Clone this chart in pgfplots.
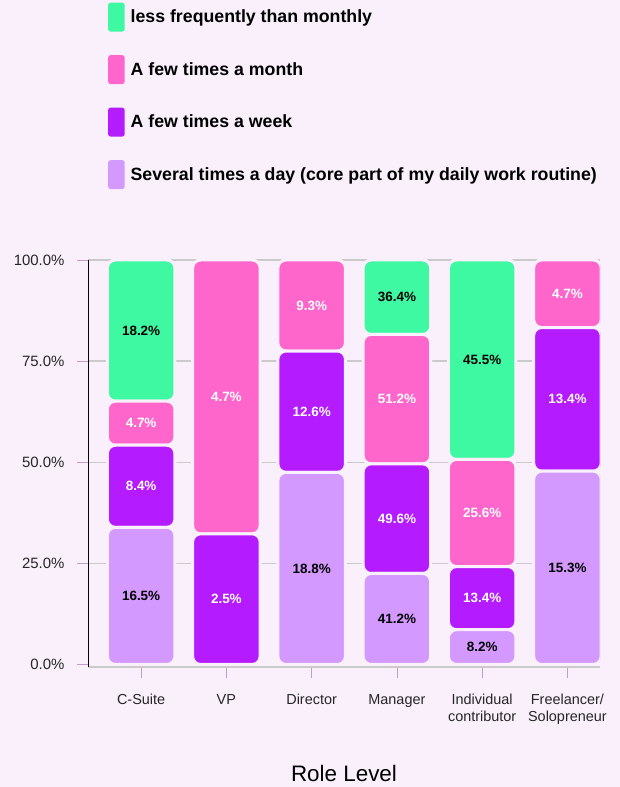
\documentclass[border=0pt]{standalone}
\usepackage{fontspec}
\setmainfont{Liberation Sans}
\usepackage{pgfplots}
\pgfplotsset{compat=1.18}
\usepackage{pgfplotstable}
\definecolor{bg}{HTML}{F9F0FC}
\definecolor{cgreen}{HTML}{3FF8A2}
\definecolor{cpink}{HTML}{FF66CC}
\definecolor{cpurple}{HTML}{B41BFF}
\definecolor{clight}{HTML}{D499FF}
\definecolor{gridc}{HTML}{CACACA}
\definecolor{tickc}{HTML}{C49AD2}

% drawn share of each bar (L,P,K,G) and the value shown as label (..r)
\pgfplotstableread{
x L Lr P Pr K Kr G Gr
0 33.9 16.5 20.3 8.4 10.9 4.7 34.9 18.2
1 0 0 32.3 2.5 67.7 4.7 0 0
2 47.5 18.8 30.0 12.6 22.5 9.3 0 0
3 22.5 41.2 27.1 49.6 32.0 51.2 18.4 36.4
4 8.6 8.2 15.6 13.4 26.5 25.6 49.3 45.5
5 47.8 15.3 35.5 13.4 16.7 4.7 0 0
}\data

\pgfplotsset{seg/.style n args={3}{
  fill=#1, draw=bg, line width=3bp, rounded corners=8bp,
  nodes near coords={\pgfmathfloatifflags{\pgfplotspointmeta}{0}{}{\pgfmathprintnumber[fixed,fixed zerofill,precision=1]{\pgfplotspointmeta}\%}},
  every node near coord/.append style={text=#3, anchor=center, font=\bfseries\fontsize{13.5}{13.5}\selectfont},
}}

\begin{document}
\begin{tikzpicture}
\fill[bg] (0,0) rectangle (620bp,787bp);
\useasboundingbox (0,0) rectangle (620bp,787bp);
\begin{axis}[
  at={(88bp,120.1bp)}, anchor=south west,
  width=512bp, height=406.9bp, scale only axis,
  ybar stacked, bar width=67.5bp,
  xmin=-0.623, xmax=5.382, ymin=-0.6, ymax=100,
  xtick={0,...,5},
  xticklabels={C-Suite, VP, Director, Manager, {Individual\\contributor}, {Freelancer/\\Solopreneur}},
  xticklabel style={align=center, font=\fontsize{14.5}{16.5}\selectfont, text=black!85, yshift=-13bp},
  ytick={25,50,75,100},
  extra y ticks={0}, extra y tick style={grid=none},
  yticklabel={\pgfmathprintnumber[fixed,fixed zerofill,precision=1]{\tick}\%},
  yticklabel style={font=\fontsize{15}{15}\selectfont, text=black!85, xshift=-9bp},
  /pgf/number format/assume math mode=true,
  axis x line*=bottom, axis y line*=left,
  x axis line style={draw=gridc, line width=1.3bp, -},
  y axis line style={draw=black, line width=0.8bp, -},
  tick style={draw=tickc, line width=0.8bp},
  major tick length=11bp, tick align=outside,
  ymajorgrids, grid style={draw=gridc, line width=1.3bp},
  point meta=explicit,
  xlabel={Role Level},
  xlabel style={at={(axis description cs:0.5,-0.263)}, anchor=center, font=\fontsize{22.5}{22.5}\selectfont},
  reverse legend,
  legend image code/.code={\fill[#1, draw=none, rounded corners=2.5bp] (0bp,-14.5bp) rectangle (16.5bp,14.5bp);},
  legend style={at={(axis description cs:0.039,1.633)}, anchor=north west, draw=none, fill=none,
     inner sep=0pt, row sep=23.5bp, column sep=5bp, font=\bfseries\fontsize{17.8}{17.8}\selectfont,
     nodes={inner sep=1bp}},
  legend cell align=left,
]
\addplot[seg={clight}{L}{black}] table[x=x, y=L, meta=Lr] \data;
\addplot[seg={cpurple}{P}{white}] table[x=x, y=P, meta=Pr] \data;
\addplot[seg={cpink}{K}{white}] table[x=x, y=K, meta=Kr] \data;
\addplot[seg={cgreen}{G}{black}] table[x=x, y=G, meta=Gr] \data;
\legend{Several times a day (core part of my daily work routine), A few times a week, A few times a month, less frequently than monthly}
\end{axis}
\end{tikzpicture}
\end{document}
